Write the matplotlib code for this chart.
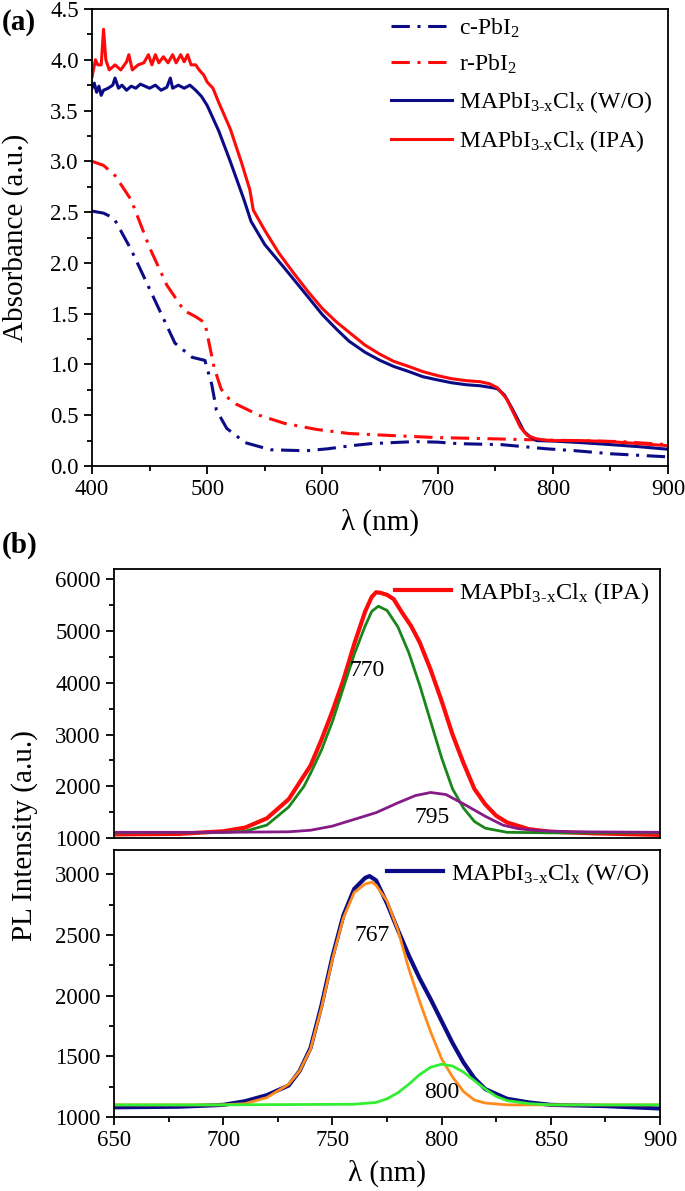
import numpy as np
import matplotlib
matplotlib.use("Agg")
from matplotlib import pyplot as plt
from matplotlib.ticker import MultipleLocator, FormatStrFormatter

plt.rcParams['font.family'] = ['Liberation Serif', 'DejaVu Serif']
plt.rcParams['mathtext.fontset'] = 'custom'
plt.rcParams['mathtext.rm'] = 'Liberation Serif'
plt.rcParams['mathtext.it'] = 'Liberation Serif:italic'

# ---- (a) absorbance data ----
wo_x = [400, 402, 404, 406, 408, 410, 414, 418, 420, 423, 426, 430, 434, 438, 442, 446, 450, 455, 460, 465,
        468, 470, 475, 480, 485, 490, 495, 500, 510, 520, 532, 538, 550, 567, 585, 600, 612, 623, 637, 650,
        662, 675, 687, 699, 712, 725, 737, 748, 752, 758, 764, 770, 775, 780, 786, 801, 825, 851, 875, 900]
wo_y = [3.72, 3.77, 3.68, 3.74, 3.65, 3.70, 3.72, 3.75, 3.82, 3.72, 3.75, 3.70, 3.74, 3.72, 3.76, 3.74, 3.72, 3.75, 3.70, 3.73,
        3.82, 3.72, 3.75, 3.72, 3.75, 3.70, 3.64, 3.55, 3.30, 3.00, 2.62, 2.41, 2.18, 1.95, 1.70, 1.49, 1.35, 1.23, 1.12, 1.04,
        0.98, 0.93, 0.88, 0.85, 0.82, 0.80, 0.79, 0.77, 0.76, 0.70, 0.58, 0.45, 0.34, 0.29, 0.25, 0.245, 0.23, 0.21, 0.19, 0.165]

ipa_x = [400, 403, 405, 408, 410, 412, 415, 420, 425, 430, 432, 435, 440, 445, 449, 452, 455, 458, 462, 466,
         470, 473, 477, 480, 483, 486, 490, 493, 497, 500, 505, 510, 520, 530, 537, 540, 550, 562, 575, 588,
         600, 612, 625, 637, 650, 662, 675, 687, 700, 712, 725, 737, 745, 752, 760, 766, 772, 778, 785, 790,
         800, 825, 850, 875, 900]
ipa_y = [3.83, 4.00, 3.95, 3.95, 4.30, 4.00, 3.90, 3.95, 3.90, 3.98, 4.05, 3.90, 3.95, 3.97, 4.05, 3.95, 4.05, 3.97, 4.03, 3.97,
         4.05, 3.97, 4.05, 3.98, 4.05, 3.95, 3.95, 3.90, 3.85, 3.78, 3.72, 3.58, 3.32, 2.98, 2.72, 2.52, 2.32, 2.10, 1.90, 1.71,
         1.55, 1.42, 1.30, 1.19, 1.10, 1.03, 0.98, 0.93, 0.89, 0.86, 0.84, 0.83, 0.81, 0.77, 0.66, 0.52, 0.38, 0.30, 0.27, 0.26,
         0.25, 0.25, 0.24, 0.22, 0.20]

c_x = [400, 410, 419, 434, 453, 472, 487, 498, 504, 508, 517, 533, 555, 586, 605, 625, 642, 660, 680, 700, 718, 737, 756, 775,
       794, 820, 851, 875, 900]
c_y = [2.51, 2.49, 2.44, 2.13, 1.67, 1.21, 1.07, 1.04, 0.80, 0.55, 0.37, 0.23, 0.16, 0.15, 0.17, 0.20, 0.22, 0.23, 0.24, 0.235,
       0.22, 0.215, 0.21, 0.19, 0.17, 0.15, 0.12, 0.105, 0.09]

r_x = [400, 410, 420, 434, 450, 465, 480, 490, 498, 506, 512, 517, 525, 545, 567, 595, 623, 660, 699, 740, 775, 820, 860, 900]
r_y = [3.00, 2.96, 2.86, 2.62, 2.15, 1.78, 1.53, 1.47, 1.41, 0.97, 0.76, 0.68, 0.61, 0.50, 0.42, 0.36, 0.32, 0.30, 0.28, 0.27, 0.26, 0.25, 0.24, 0.21]

# ---- (b) PL data, IPA ----
pl_ipa_x = [650, 680, 700, 710, 720, 730, 740, 745, 750, 755, 760, 765, 768, 770, 772, 775, 778, 782, 786, 790,
            795, 800, 805, 810, 815, 820, 825, 830, 840, 850, 870, 900]
pl_ipa_y = [1070, 1080, 1130, 1200, 1380, 1750, 2400, 2900, 3450, 4050, 4750, 5380, 5660, 5750, 5740, 5700, 5620, 5350, 5100, 4780,
            4250, 3650, 3000, 2450, 1950, 1650, 1430, 1300, 1170, 1120, 1090, 1060]
fit770_x = [650, 700, 710, 720, 730, 737, 740, 745, 750, 755, 760, 765, 768, 771, 775, 780, 785, 790, 795, 800,
            805, 810, 815, 820, 830, 850, 900]
fit770_y = [1100, 1110, 1130, 1250, 1600, 2000, 2250, 2700, 3250, 3900, 4550, 5100, 5380, 5480, 5400, 5080, 4580, 3950, 3250, 2550,
            1950, 1580, 1320, 1190, 1110, 1100, 1100]
fit795_x = [650, 700, 730, 740, 750, 760, 770, 780, 788, 795, 802, 810, 820, 828, 835, 845, 860, 900]
fit795_y = [1110, 1110, 1120, 1150, 1230, 1360, 1490, 1680, 1820, 1880, 1840, 1660, 1420, 1250, 1180, 1140, 1120, 1110]

# ---- (b) PL data, W/O ----
pl_wo_x = [650, 680, 700, 710, 720, 730, 735, 740, 745, 750, 755, 760, 765, 767, 770, 775, 780, 785, 790, 795,
           800, 805, 810, 815, 820, 830, 840, 850, 875, 900]
pl_wo_y = [1080, 1085, 1100, 1130, 1180, 1260, 1380, 1570, 1920, 2320, 2660, 2880, 2970, 2985, 2950, 2760, 2540, 2330, 2140, 1970,
           1790, 1610, 1450, 1320, 1230, 1150, 1120, 1100, 1090, 1070]
fit767_x = [650, 700, 710, 720, 730, 735, 740, 745, 750, 755, 760, 765, 768, 770, 775, 780, 785, 790, 795, 800,
            805, 810, 815, 820, 830, 850, 900]
fit767_y = [1100, 1100, 1110, 1160, 1270, 1380, 1560, 1900, 2300, 2640, 2850, 2920, 2935, 2910, 2780, 2540, 2220, 1950, 1700, 1480,
            1330, 1210, 1140, 1115, 1100, 1100, 1100]
fit800_x = [650, 700, 760, 770, 775, 780, 785, 790, 795, 800, 805, 810, 815, 820, 825, 830, 840, 850, 900]
fit800_y = [1100, 1100, 1105, 1120, 1150, 1200, 1270, 1350, 1410, 1435, 1420, 1370, 1300, 1230, 1170, 1135, 1110, 1100, 1100]

navy = '#0b0b85'
red = '#ff0a0a'
dashdot = (0, (6, 2.5, 1, 2.5))
lbl_wo = r'MAPbI$_{\mathrm{3\text{-}x}}$Cl$_{\mathrm{x}}$ (W/O)'
lbl_ipa = r'MAPbI$_{\mathrm{3\text{-}x}}$Cl$_{\mathrm{x}}$ (IPA)'

W, H = 685, 1191
fig = plt.figure(figsize=(W / 100, H / 100), dpi=100)

def box(l, t, r, b):
    return [l / W, 1 - b / H, (r - l) / W, (b - t) / H]

def style(ax):
    for s in ax.spines.values():
        s.set_linewidth(1.3)
    ax.tick_params(which='both', direction='out', top=False, right=False, labelsize=16.5, width=1.3)
    ax.tick_params(which='major', length=6)
    ax.tick_params(which='minor', length=3.5)

# (a)
ax1 = fig.add_axes(box(92, 9, 668, 466))
ax1.plot(c_x, c_y, color=navy, lw=2.2, linestyle=dashdot, label='c-PbI$_2$')
ax1.plot(r_x, r_y, color=red, lw=2.2, linestyle=dashdot, label='r-PbI$_2$')
ax1.plot(wo_x, wo_y, color=navy, lw=2.2, label=lbl_wo)
ax1.plot(ipa_x, ipa_y, color=red, lw=2.2, label=lbl_ipa)
ax1.set_xlim(400, 900)
ax1.set_ylim(0, 4.5)
ax1.xaxis.set_major_locator(MultipleLocator(100))
ax1.xaxis.set_minor_locator(MultipleLocator(50))
ax1.yaxis.set_major_locator(MultipleLocator(0.5))
ax1.yaxis.set_minor_locator(MultipleLocator(0.25))
ax1.yaxis.set_major_formatter(FormatStrFormatter('%.1f'))
style(ax1)
ax1.set_xlabel('λ (nm)', fontsize=21, labelpad=6)
ax1.set_ylabel('Absorbance (a.u.)', fontsize=21)
ax1.yaxis.set_label_coords(-0.11, 0.5)
ax1.legend(loc='upper left', bbox_to_anchor=(0.49, 1.02), frameon=False, fontsize=17,
           handlelength=2.6, handletextpad=0.3, labelspacing=0.55, borderaxespad=0.3)

# (b) upper
ax2 = fig.add_axes(box(114, 569, 660, 838))
ax2.plot(pl_ipa_x, pl_ipa_y, color=red, lw=3, label=lbl_ipa)
ax2.plot(fit770_x, fit770_y, color='#1a861a', lw=2)
ax2.plot(fit795_x, fit795_y, color='#861a86', lw=2)
ax2.set_xlim(650, 900)
ax2.set_ylim(1000, 6200)
ax2.xaxis.set_major_locator(MultipleLocator(50))
ax2.yaxis.set_major_locator(MultipleLocator(1000))
ax2.yaxis.set_minor_locator(MultipleLocator(500))
style(ax2)
ax2.tick_params(axis='x', which='both', bottom=False, labelbottom=False)
ax2.text(766, 4240, '770', fontsize=17, ha='center', va='center')
ax2.text(795.5, 1390, '795', fontsize=17, ha='center', va='center')
ax2.legend(loc='upper right', frameon=False, fontsize=17.5, handlelength=2.3,
           handletextpad=0.3, borderaxespad=0.05)

# (b) lower
ax3 = fig.add_axes(box(114, 850, 660, 1117))
ax3.plot(pl_wo_x, pl_wo_y, color=navy, lw=3, label=lbl_wo)
ax3.plot(fit767_x, fit767_y, color='#ff8c1a', lw=2)
ax3.plot(fit800_x, fit800_y, color='#33ee33', lw=2)
ax3.set_xlim(650, 900)
ax3.set_ylim(1000, 3200)
ax3.xaxis.set_major_locator(MultipleLocator(50))
ax3.xaxis.set_minor_locator(MultipleLocator(25))
ax3.yaxis.set_major_locator(MultipleLocator(500))
ax3.yaxis.set_minor_locator(MultipleLocator(250))
style(ax3)
ax3.text(768, 2495, '767', fontsize=17, ha='center', va='center')
ax3.text(800, 1200, '800', fontsize=17, ha='center', va='center')
ax3.set_xlabel('λ (nm)', fontsize=21, labelpad=6)
ax3.legend(loc='upper right', frameon=False, fontsize=17.5, handlelength=2.3,
           handletextpad=0.3, borderaxespad=0.05)

fig.text(25 / W, 1 - 836 / H, 'PL Intensity (a.u.)', fontsize=21, rotation=90, ha='center', va='center')
fig.text(2 / W, 1 - 22 / H, '(a)', fontsize=21, fontweight='bold', ha='left', va='center')
fig.text(2 / W, 1 - 545 / H, '(b)', fontsize=21, fontweight='bold', ha='left', va='center')

fig.savefig('out.png', dpi=100)
